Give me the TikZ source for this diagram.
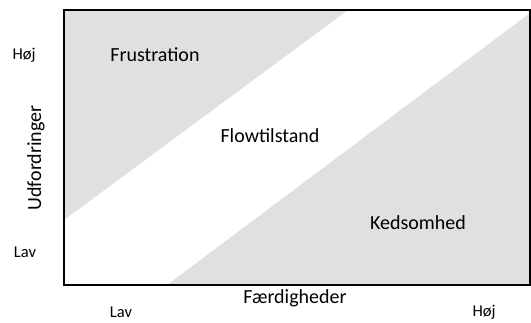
\documentclass[tikz,border=0pt]{standalone}
\usepackage{fontspec}
\setmainfont{Carlito}
\begin{document}
\begin{tikzpicture}[x=1pt,y=-1pt,
  region/.style={fill=black!12, draw=none},
  lbl/.style={font=\fontsize{20}{23}\selectfont, inner sep=0pt},
  tick/.style={font=\fontsize{16.5}{19}\selectfont, inner sep=0pt}]
\useasboundingbox (0,0) rectangle (531,322);
\fill[region] (64,10) -- (348,10) -- (64,220) -- cycle;
\fill[region] (167,285) -- (530,13) -- (530,285) -- cycle;
\draw[line width=1.8pt] (64,10) rectangle (530,285);
\node[lbl] (fru) at (155,55) {Frustration};
\node[lbl] (flo) at (270,136) {Flowtilstand};
\node[lbl] (ked) at (418,223) {Kedsomhed};
\node[lbl] (fae) at (295,298) {Færdigheder};
\node[lbl, rotate=90] (udf) at (36,158) {Udfordringer};
\node[tick] (yh) at (24,55) {Høj};
\node[tick] (yl) at (25,252) {Lav};
\node[tick] (xl) at (121,312) {Lav};
\node[tick] (xh) at (484,312) {Høj};
\end{tikzpicture}
\end{document}
